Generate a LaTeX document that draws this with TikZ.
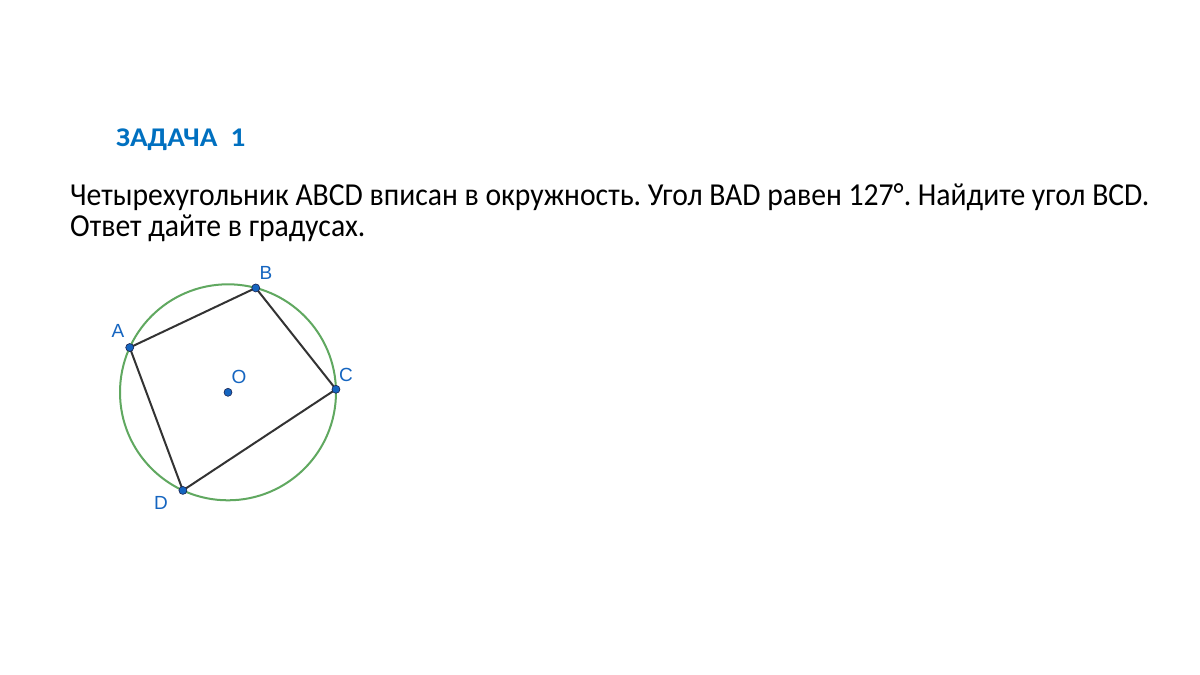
\documentclass[tikz,border=0pt]{standalone}
\usepackage{fontspec}
\setmainfont{Carlito}
\newfontfamily\lblfont{Liberation Sans}
\definecolor{titleblue}{RGB}{0,112,192}
\definecolor{ptblue}{RGB}{21,101,192}
\definecolor{ptedge}{RGB}{26,35,80}
\definecolor{circgreen}{RGB}{96,168,96}
\definecolor{segdark}{RGB}{51,51,51}
\tikzset{
  pt/.style={circle,fill=ptblue,draw=ptedge,line width=0.6pt,inner sep=0pt,minimum size=8pt},
  lbl/.style={text=ptblue,font=\lblfont\fontsize{19}{21}\selectfont,inner sep=0pt},
  seg/.style={draw=segdark,line width=2pt},
  txt/.style={anchor=base west,inner sep=0pt,font=\fontsize{32}{38}\selectfont}
}
\frenchspacing
\begin{document}
\begin{tikzpicture}[x=1pt,y=-1pt]
\useasboundingbox[fill=white] (0,0) rectangle (1200,675);
\node[anchor=base west,inner sep=0pt,text=titleblue,font=\bfseries\fontsize{27}{30}\selectfont] (title) at (116,146.7) {\scalebox{1.08}[1]{ЗАДАЧА\ \ 1}};
\node[txt] (l1) at (70,205.7) {\scalebox{0.927}[1]{Четырехугольник ABCD вписан в окружность. Угол BAD равен 127°. Найдите угол BCD.}};
\node[txt] (l2) at (70,236) {\scalebox{0.927}[1]{Ответ дайте в градусах.}};
\coordinate (Oc) at (228,392.3);
\draw[circgreen,line width=2pt] (Oc) circle (108);
\path (Oc) ++(-155.5:108) coordinate (Ap);
\path (Oc) ++(-75.1:108) coordinate (Bp);
\path (Oc) ++(-1.6:108) coordinate (Cp);
\path (Oc) ++(114.7:108) coordinate (Dp);
\draw[seg,line join=round] (Ap) -- (Bp) -- (Cp) -- (Dp) -- cycle;
\node[pt] (A) at (Ap) {};
\node[pt] (B) at (Bp) {};
\node[pt] (C) at (Cp) {};
\node[pt] (D) at (Dp) {};
\node[pt] (O) at (Oc) {};
\node[lbl] (lA) at (118,331) {A};
\node[lbl] (lB) at (266,273) {B};
\node[lbl] (lC) at (346,375) {C};
\node[lbl] (lD) at (161,503) {D};
\node[lbl] (lO) at (239,377) {O};
\end{tikzpicture}
\end{document}
